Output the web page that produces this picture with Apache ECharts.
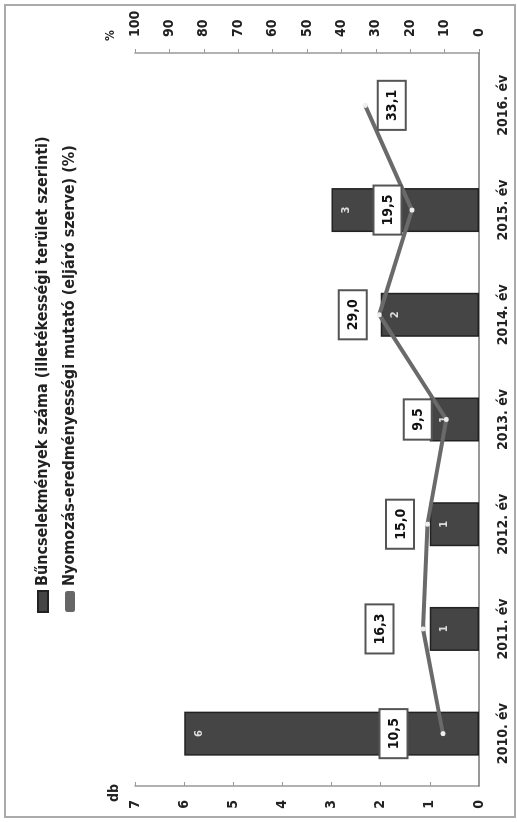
<!DOCTYPE html>
<html><head><meta charset="utf-8">
<script src="https://cdn.jsdelivr.net/npm/echarts@6/dist/echarts.min.js"></script>
<style>
html,body{margin:0;padding:0;background:#fff;overflow:hidden;width:517px;height:822px;}
#chart{position:absolute;left:0;top:0;width:822px;height:517px;transform-origin:0 0;transform:translate(0,822px) rotate(-90deg);}
</style></head><body>
<div id="chart"></div>
<script>
// ---- data ----
const categories = ['2010. év','2011. év','2012. év','2013. év','2014. év','2015. év','2016. év'];
const crimeCounts = [6, 1, 1, 1, 2, 3, null];          // db
const successRate = [10.5, 16.3, 15.0, 9.5, 29.0, 19.5, 33.1]; // %
const seriesNames = ['Bűncselekmények száma (illetékességi terület szerinti)',
                     'Nyomozás-eredményességi mutató (eljáró szerve) (%)'];
const dbAxis = {min: 0, max: 7, interval: 1, name: 'db'};
const pctAxis = {min: 0, max: 100, interval: 10, name: '%'};
// label placement styling (kept separate from values)
const rateLabelPos = ['top','top','top','top','top','top','bottom'];
const rateLabelDist = [34, 28, 12, 13, 11, 9, 11];

const FONT = '"DejaVu Sans Condensed", "Liberation Sans Narrow", sans-serif';
const chart = echarts.init(document.getElementById('chart'), null, {renderer: 'canvas'});

const lineData = successRate.map((v, i) => ({
  value: v,
  label: {position: rateLabelPos[i], distance: rateLabelDist[i]}
}));

chart.setOption({
  animation: false,
  backgroundColor: '#fff',
  textStyle: {fontFamily: FONT},
  graphic: [{
    type: 'rect', shape: {x: 5, y: 5, width: 812, height: 510},
    style: {fill: 'none', stroke: '#aaa', lineWidth: 2}, silent: true
  }],
  legend: {
    orient: 'vertical', left: 204, top: 30, itemGap: 11,
    itemWidth: 21, itemHeight: 10,
    textStyle: {fontFamily: FONT, fontWeight: 'bold', fontSize: 16, color: '#222'},
    data: [
      {name: seriesNames[0], icon: 'rect'},
      {name: seriesNames[1], icon: 'roundRect', itemStyle: {color: '#666'}}
    ]
  },
  grid: {left: 36, right: 53, top: 135, bottom: 38, containLabel: false},
  xAxis: {
    type: 'category', data: categories,
    axisLine: {lineStyle: {color: '#777', width: 1.5}},
    axisTick: {show: false},
    axisLabel: {margin: 17, fontFamily: FONT, fontWeight: 'bold', fontSize: 14, color: '#222'}
  },
  yAxis: [{
    type: 'value', position: 'left', min: dbAxis.min, max: dbAxis.max, interval: dbAxis.interval,
    name: dbAxis.name, nameLocation: 'end', nameGap: 14,
    nameTextStyle: {fontFamily: FONT, fontWeight: 'bold', fontSize: 14, color: '#222', align: 'right', padding: [0, -2, 0, 0]},
    axisLine: {show: true, lineStyle: {color: '#999', width: 1.5}},
    axisTick: {show: true, inside: true, length: 4, lineStyle: {color: '#999'}},
    splitLine: {show: false},
    axisLabel: {margin: 14, fontFamily: FONT, fontWeight: 'bold', fontSize: 14, color: '#222'}
  }, {
    type: 'value', position: 'right', min: pctAxis.min, max: pctAxis.max, interval: pctAxis.interval,
    name: pctAxis.name, nameLocation: 'end', nameGap: 18,
    nameTextStyle: {fontFamily: FONT, fontWeight: 'bold', fontSize: 12, color: '#222', align: 'left', padding: [0, 0, 0, 12]},
    axisLine: {show: true, lineStyle: {color: '#999', width: 1.5}},
    axisTick: {show: true, length: 4, lineStyle: {color: '#999'}},
    splitLine: {show: false},
    axisLabel: {margin: 16, fontFamily: FONT, fontWeight: 'bold', fontSize: 14, color: '#222'}
  }],
  series: [{
    name: seriesNames[0], type: 'bar', yAxisIndex: 0, data: crimeCounts,
    barWidth: '42%',
    itemStyle: {color: '#454545', borderColor: '#222', borderWidth: 1.5},
    label: {show: true, position: 'insideTop', distance: 9, color: '#ddd',
            fontFamily: FONT, fontWeight: 'bold', fontSize: 11}
  }, {
    name: seriesNames[1], type: 'line', yAxisIndex: 1, data: lineData,
    symbol: 'circle', symbolSize: 5, itemStyle: {color: '#eee'},
    lineStyle: {color: '#6a6a6a', width: 4},
    z: 5,
    label: {show: true, formatter: p => p.value.toFixed(1).replace('.', ','),
            backgroundColor: '#fff', borderColor: '#555', borderWidth: 2,
            padding: [7, 8, 5, 8], color: '#111',
            fontFamily: FONT, fontWeight: 'bold', fontSize: 14}
  }]
});
</script>
</body></html>
